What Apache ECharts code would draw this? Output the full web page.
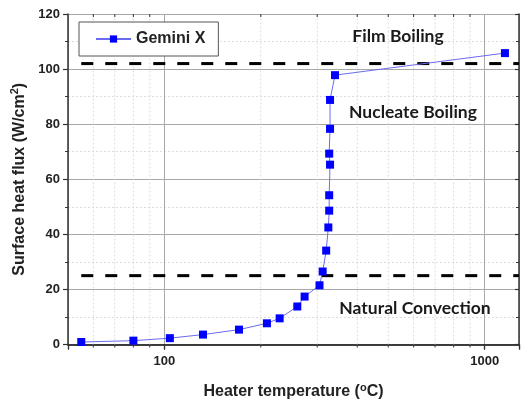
<!DOCTYPE html>
<html>
<head>
<meta charset="utf-8">
<script src="https://cdn.jsdelivr.net/npm/echarts@6/dist/echarts.min.js"></script>
<style>
  html, body { margin: 0; padding: 0; background: #fff; }
  #chart { width: 522px; height: 405px; }
</style>
</head>
<body>
<div id="chart"></div>
<script>
// Boiling curve: heater temperature (°C, log scale) vs. surface heat flux (W/cm²)
const seriesName = 'Gemini X';
const heaterTemp = [55, 80, 104, 132, 171, 209, 229, 260, 274, 305, 312, 320, 325, 327, 327, 329, 327, 329, 329, 341, 1157];
const heatFlux   = [0.9, 1.4, 2.3, 3.6, 5.4, 7.7, 9.5, 13.8, 17.4, 21.5, 26.5, 34.1, 42.5, 48.6, 54.2, 65.3, 69.3, 78.3, 88.8, 97.8, 105.8];

// Regime boundaries (dashed lines) and their x span
const boundaryFlux = [25, 102];
const boundaryTempSpan = [55, 1280];

// Axis ranges and tick values
const xRange = [50, 1280];
const xMajorTicks = [100, 1000];
const xMinorTicks = [60, 70, 80, 90, 200, 300, 400, 500, 600, 700, 800, 900];
const yRange = [0, 120];
const yInterval = 20;

// Regime labels
const regimeLabels = ['Film Boiling', 'Nucleate Boiling', 'Natural Convection'];

const chart = echarts.init(document.getElementById('chart'), null, { renderer: 'canvas' });

const frameColor = '#333';
const sansBold = 'Liberation Sans, Arial, sans-serif';
const labelFont = { fontFamily: sansBold, fontWeight: 'bold', color: '#222' };
const supStyle = { fontFamily: sansBold, fontWeight: 'bold', fontSize: 11, verticalAlign: 'top', padding: [0, 0, 8, 0], color: '#222' };

const points = heaterTemp.map((t, i) => [t, heatFlux[i]]);

const option = {
  animation: false,
  backgroundColor: '#fff',
  grid: { left: 68, top: 14, right: 2, bottom: 58, containLabel: false },
  legend: {
    data: [seriesName],
    left: 79,
    top: 22,
    orient: 'horizontal',
    padding: [9, 13, 9, 16],
    itemWidth: 35,
    itemHeight: 9,
    itemGap: 6,
    borderColor: '#555',
    borderWidth: 1,
    backgroundColor: '#fff',
    textStyle: { fontFamily: sansBold, fontWeight: 'bold', fontSize: 16, color: '#222' }
  },
  xAxis: [
    {
      type: 'log',
      logBase: 10,
      min: xRange[0],
      max: xRange[1],
      position: 'bottom',
      name: 'Heater temperature ({sup|o}C)',
      nameLocation: 'middle',
      nameGap: 38,
      nameTextStyle: {
        fontFamily: sansBold, fontWeight: 'bold', fontSize: 16, color: '#222',
        rich: { sup: supStyle }
      },
      axisLine: { show: true, lineStyle: { color: frameColor, width: 1.5 } },
      axisTick: { show: true, inside: false, length: 5, lineStyle: { color: frameColor, width: 1.2 } },
      axisLabel: {
        ...labelFont, fontSize: 13, margin: 10,
        formatter: v => (xMajorTicks.some(m => Math.abs(m - v) < 1e-6) ? String(Math.round(v)) : '')
      },
      splitLine: { show: true, lineStyle: { color: '#a8a8a8', width: 1 } }
    },
    {
      type: 'log',
      logBase: 10,
      min: xRange[0],
      max: xRange[1],
      position: 'top',
      axisLine: { show: true, lineStyle: { color: frameColor, width: 1.5 } },
      axisTick: { show: true, inside: true, length: 5, lineStyle: { color: frameColor, width: 1.2 } },
      axisLabel: { show: false },
      splitLine: { show: false }
    }
  ],
  yAxis: [
    {
      type: 'value',
      min: yRange[0],
      max: yRange[1],
      interval: yInterval,
      position: 'left',
      name: 'Surface heat flux (W/cm{sup|2})',
      nameLocation: 'middle',
      nameRotate: 90,
      nameGap: 35,
      nameTextStyle: {
        fontFamily: sansBold, fontWeight: 'bold', fontSize: 16, color: '#222',
        rich: { sup: supStyle }
      },
      axisLine: { show: true, lineStyle: { color: frameColor, width: 1.5 } },
      axisTick: { show: true, inside: false, length: 5, lineStyle: { color: frameColor, width: 1.2 } },
      minorTick: { show: true, splitNumber: 2, length: 3, lineStyle: { color: frameColor, width: 1 } },
      axisLabel: { ...labelFont, fontSize: 13, margin: 8 },
      splitLine: { show: true, lineStyle: { color: '#a8a8a8', width: 1 } },
      minorSplitLine: { show: true, lineStyle: { color: '#dcdcdc', width: 1, type: [2, 2] } }
    },
    {
      type: 'value',
      min: yRange[0],
      max: yRange[1],
      interval: yInterval,
      position: 'right',
      axisLine: { show: true, lineStyle: { color: frameColor, width: 1.5 } },
      axisTick: { show: true, inside: true, length: 4, lineStyle: { color: frameColor, width: 1.2 } },
      minorTick: { show: true, splitNumber: 2, length: 3, lineStyle: { color: frameColor, width: 1 } },
      axisLabel: { show: false },
      splitLine: { show: false }
    }
  ],
  series: [
    {
      // minor decade gridlines and minor ticks on the log x axis
      type: 'custom',
      name: 'minor',
      xAxisIndex: 0,
      yAxisIndex: 0,
      silent: true,
      z: 1,
      clip: false,
      data: xMinorTicks.map(v => [v]),
      encode: { x: 0 },
      renderItem: (params, api) => {
        const v = api.value(0);
        const bottom = api.coord([v, yRange[0]]);
        const top = api.coord([v, yRange[1]]);
        return {
          type: 'group',
          children: [
            { type: 'line', shape: { x1: bottom[0], y1: bottom[1], x2: top[0], y2: top[1] },
              style: { stroke: '#dcdcdc', lineWidth: 1, lineDash: [2, 2] } },
            { type: 'line', shape: { x1: bottom[0], y1: bottom[1], x2: bottom[0], y2: bottom[1] + 3 },
              style: { stroke: frameColor, lineWidth: 1 } },
            { type: 'line', shape: { x1: top[0], y1: top[1], x2: top[0], y2: top[1] + 3 },
              style: { stroke: frameColor, lineWidth: 1 } }
          ]
        };
      }
    },
    {
      // dashed regime boundaries
      type: 'custom',
      name: 'boundaries',
      xAxisIndex: 0,
      yAxisIndex: 0,
      silent: true,
      z: 4,
      data: boundaryFlux.map(f => [f]),
      encode: { y: 0 },
      renderItem: (params, api) => {
        const f = api.value(0);
        const a = api.coord([boundaryTempSpan[0], f]);
        const b = api.coord([boundaryTempSpan[1], f]);
        return {
          type: 'line',
          shape: { x1: a[0], y1: a[1], x2: b[0], y2: b[1] },
          style: { stroke: '#000', lineWidth: 3, lineDash: [12, 12] }
        };
      }
    },
    {
      type: 'line',
      name: seriesName,
      xAxisIndex: 0,
      yAxisIndex: 0,
      data: points,
      z: 5,
      symbol: 'rect',
      symbolSize: 8,
      showAllSymbol: true,
      itemStyle: { color: '#0000ff' },
      lineStyle: { color: '#6b6bf2', width: 1 }
    }
  ],
  graphic: [
    { type: 'text', x: 398, y: 36, z: 10,
      style: { text: regimeLabels[0], font: 'bold 17.5px Lato, "Open Sans", sans-serif', fill: '#1a1a1a', align: 'center', verticalAlign: 'middle' } },
    { type: 'text', x: 413, y: 112, z: 10,
      style: { text: regimeLabels[1], font: 'bold 17.5px Lato, "Open Sans", sans-serif', fill: '#1a1a1a', align: 'center', verticalAlign: 'middle' } },
    { type: 'text', x: 415, y: 308, z: 10,
      style: { text: regimeLabels[2], font: 'bold 17.5px Lato, "Open Sans", sans-serif', fill: '#1a1a1a', align: 'center', verticalAlign: 'middle' } }
  ]
};

chart.setOption(option);
</script>
</body>
</html>
